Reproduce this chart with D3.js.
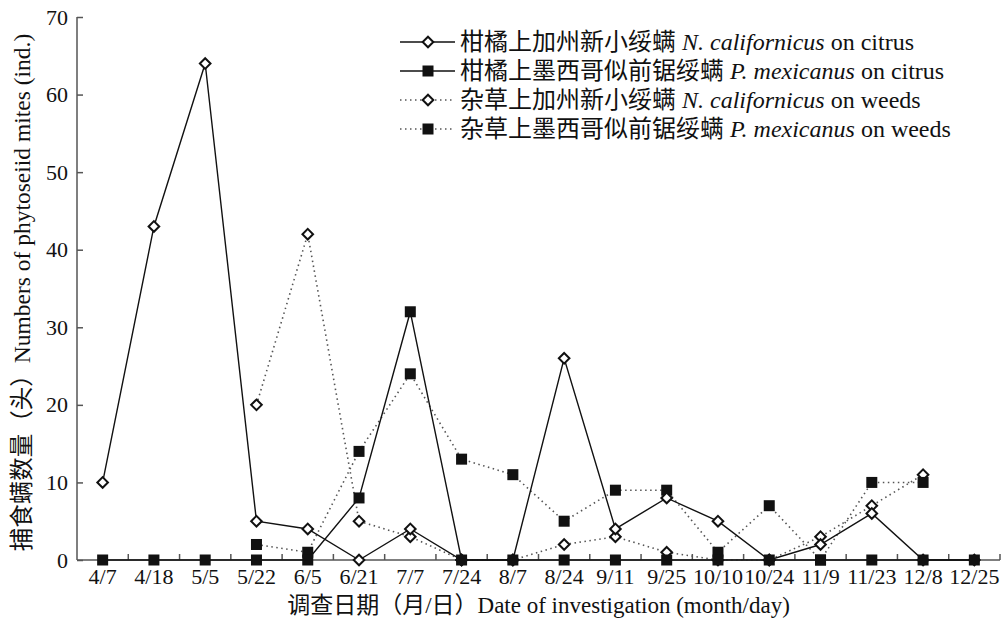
<!DOCTYPE html>
<html>
<head>
<meta charset="utf-8">
<script src="https://cdn.jsdelivr.net/npm/d3@7"></script>
<style>
  body { margin: 0; background: #fff; }
  svg text { font-family: "Liberation Serif", "Noto Sans CJK SC", serif; fill: #111; }
</style>
</head>
<body>
<svg id="chart" width="1003" height="620"></svg>
<script>
// 调查日期
const dates = ['4/7', '4/18', '5/5', '5/22', '6/5', '6/21', '7/7', '7/24', '8/7', '8/24',
  '9/11', '9/25', '10/10', '10/24', '11/9', '11/23', '12/8', '12/25'];

const citrusNcal = [10, 43, 64, 5, 4, 0, 4, 0, 0, 26, 4, 8, 5, 0, 2, 6, 0, 0];
const citrusPmex = [0, 0, 0, 0, 0, 8, 32, 0, 0, 0, 0, 0, 0, 0, 0, 0, 0, 0];
const weedsNcal = [null, null, null, 20, 42, 5, 3, 0, 0, 2, 3, 1, 0, 0, 3, 7, 11, null];
const weedsPmex = [null, null, null, 2, 1, 14, 24, 13, 11, 5, 9, 9, 1, 7, 0, 10, 10, null];

const yTicks = [0, 10, 20, 30, 40, 50, 60, 70];

const series = [
  { cn: '柑橘上加州新小绥螨', sp: 'N. californicus', tail: ' on citrus', values: citrusNcal, dotted: false, marker: 'diamond' },
  { cn: '柑橘上墨西哥似前锯绥螨', sp: 'P. mexicanus', tail: ' on citrus', values: citrusPmex, dotted: false, marker: 'square' },
  { cn: '杂草上加州新小绥螨', sp: 'N. californicus', tail: ' on weeds', values: weedsNcal, dotted: true, marker: 'diamond' },
  { cn: '杂草上墨西哥似前锯绥螨', sp: 'P. mexicanus', tail: ' on weeds', values: weedsPmex, dotted: true, marker: 'square' }
];

const svg = d3.select('#chart');
const mLeft = 77, mRight = 1000, mTop = 17, mBottom = 560;
const fs = 22;

const x = d3.scaleBand().domain(dates).range([mLeft, mRight]);
const y = d3.scaleLinear().domain([0, 70]).range([mBottom, mTop]);
const cx = (d) => x(d) + x.bandwidth() / 2;

// 坐标轴
const yAxis = svg.append('g')
  .attr('transform', `translate(${mLeft},0)`)
  .call(d3.axisLeft(y).tickValues(yTicks).tickSize(-6).tickPadding(9).tickFormat(d3.format('d')));
yAxis.select('.domain').attr('d', `M0,${mTop}V${mBottom}`);
yAxis.selectAll('path, line').attr('stroke', '#555').attr('stroke-width', 1.5);
yAxis.selectAll('text').style('font-size', fs + 'px').attr('font-family', null);

const xAxis = svg.append('g')
  .attr('transform', `translate(0,${mBottom})`)
  .call(d3.axisBottom(x).tickSize(0).tickPadding(8));
xAxis.select('.domain').attr('d', `M${mLeft},0H${mRight}`).attr('stroke', '#555').attr('stroke-width', 1.5);
xAxis.selectAll('text').style('font-size', fs + 'px').attr('font-family', null);
xAxis.selectAll('.bound')
  .data(dates)
  .join('line')
  .attr('class', 'bound')
  .attr('x1', (d) => x(d) + x.bandwidth())
  .attr('x2', (d) => x(d) + x.bandwidth())
  .attr('y1', 0)
  .attr('y2', -6)
  .attr('stroke', '#555')
  .attr('stroke-width', 1.5);

// 轴标题
svg.append('text')
  .attr('transform', `translate(30,${(mTop + mBottom) / 2 + 4}) rotate(-90)`)
  .attr('text-anchor', 'middle')
  .style('font-size', '23.5px')
  .text('捕食螨数量（头）Numbers of phytoseiid mites (ind.)');

svg.append('text')
  .attr('x', (mLeft + mRight) / 2)
  .attr('y', 613)
  .attr('text-anchor', 'middle')
  .style('font-size', '23px')
  .text('调查日期（月/日）Date of investigation (month/day)');

function drawMarker(g, type, px, py) {
  if (type === 'diamond') {
    g.append('path')
      .attr('d', d3.symbol(d3.symbolDiamond2, 72)())
      .attr('transform', `translate(${px},${py})`)
      .attr('fill', '#fff')
      .attr('stroke', '#111')
      .attr('stroke-width', 2);
  } else {
    g.append('rect')
      .attr('x', px - 5.5).attr('y', py - 5.5)
      .attr('width', 11).attr('height', 11)
      .attr('fill', '#111');
  }
}

const line = d3.line()
  .defined((d) => d.v !== null)
  .x((d) => cx(d.date))
  .y((d) => y(d.v));

const plot = svg.append('g');
// 先画虚线系列，再画实线系列
[2, 3, 0, 1].forEach((i) => {
  const s = series[i];
  const pts = dates.map((date, k) => ({ date, v: s.values[k] }));
  const g = plot.append('g');
  g.append('path')
    .datum(pts)
    .attr('d', line)
    .attr('fill', 'none')
    .attr('stroke', s.dotted ? '#555' : '#111')
    .attr('stroke-width', s.dotted ? 1.6 : 1.4)
    .attr('stroke-dasharray', s.dotted ? '1.5,3.5' : null);
  pts.filter((d) => d.v !== null).forEach((d) => drawMarker(g, s.marker, cx(d.date), y(d.v)));
});

// 图例
const legend = svg.append('g');
series.forEach((s, i) => {
  const ly = 42 + i * 29;
  const g = legend.append('g');
  g.append('line')
    .attr('x1', 400).attr('x2', 455)
    .attr('y1', ly).attr('y2', ly)
    .attr('stroke', s.dotted ? '#555' : '#111')
    .attr('stroke-width', s.dotted ? 1.6 : 1.4)
    .attr('stroke-dasharray', s.dotted ? '1.5,3.5' : null);
  drawMarker(g, s.marker, 428, ly);
  const t = g.append('text')
    .attr('x', 460)
    .attr('y', ly + 8)
    .style('font-size', '24px');
  t.append('tspan').text(s.cn + ' ');
  t.append('tspan').attr('font-style', 'italic').text(s.sp);
  t.append('tspan').text(s.tail);
});
</script>
</body>
</html>
